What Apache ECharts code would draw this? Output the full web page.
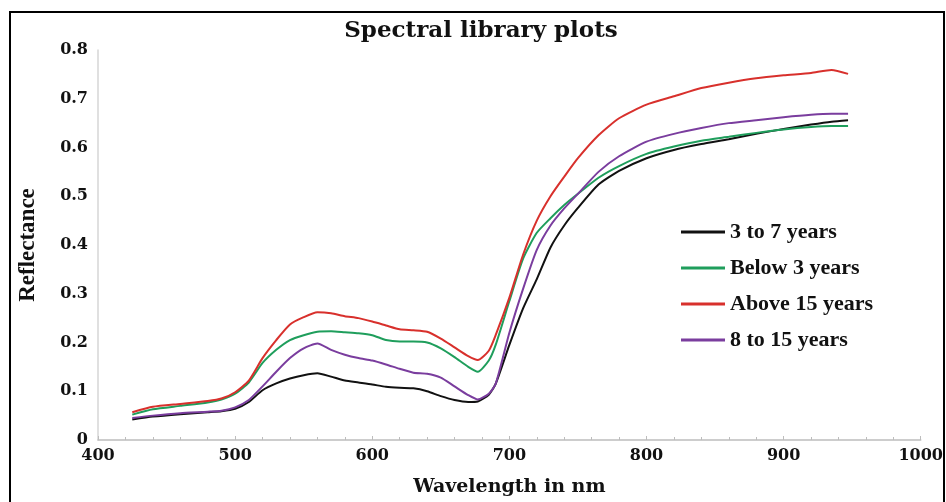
<!DOCTYPE html>
<html>
<head>
<meta charset="utf-8">
<script src="https://cdn.jsdelivr.net/npm/echarts@6/dist/echarts.min.js"></script>
<style>
  html, body { margin: 0; padding: 0; background: #fff; }
  #chart { width: 946px; height: 502px; }
</style>
</head>
<body>
<div id="chart"></div>
<script>
// wavelength (nm) of the sampled points
var wavelength = [425, 440, 460, 480, 490, 500, 510, 520, 530, 540, 550, 560, 570, 580, 590, 600,
  610, 620, 630, 640, 650, 660, 670, 677, 685, 690, 700, 710, 720, 730, 740, 750, 765, 780,
  800, 820, 840, 860, 880, 900, 920, 935, 947];

// reflectance per age group
var years3to7 = [0.042, 0.048, 0.053, 0.057, 0.059, 0.064, 0.078, 0.102, 0.116, 0.126, 0.133, 0.137,
  0.130, 0.122, 0.118, 0.114, 0.109, 0.107, 0.106, 0.100, 0.090, 0.082, 0.078, 0.079, 0.093, 0.115,
  0.195, 0.270, 0.330, 0.395, 0.440, 0.476, 0.524, 0.552, 0.578, 0.595, 0.607, 0.617, 0.628, 0.638,
  0.647, 0.653, 0.656];
var below3 = [0.052, 0.063, 0.070, 0.077, 0.083, 0.095, 0.118, 0.158, 0.185, 0.205, 0.215, 0.222,
  0.223, 0.221, 0.219, 0.215, 0.205, 0.202, 0.202, 0.200, 0.188, 0.170, 0.150, 0.140, 0.163, 0.195,
  0.285, 0.372, 0.425, 0.455, 0.482, 0.505, 0.538, 0.562, 0.587, 0.602, 0.614, 0.622, 0.630, 0.637,
  0.642, 0.644, 0.644];
var above15 = [0.057, 0.068, 0.074, 0.080, 0.085, 0.098, 0.122, 0.168, 0.205, 0.237, 0.252, 0.262,
  0.260, 0.254, 0.250, 0.243, 0.235, 0.227, 0.225, 0.222, 0.208, 0.190, 0.172, 0.164, 0.183, 0.215,
  0.292, 0.380, 0.450, 0.500, 0.540, 0.578, 0.625, 0.660, 0.688, 0.705, 0.722, 0.733, 0.742, 0.748,
  0.753, 0.759, 0.751];
var years8to15 = [0.045, 0.050, 0.055, 0.058, 0.060, 0.067, 0.082, 0.110, 0.140, 0.168, 0.188, 0.198,
  0.185, 0.175, 0.168, 0.163, 0.155, 0.146, 0.138, 0.136, 0.128, 0.110, 0.092, 0.083, 0.095, 0.115,
  0.220, 0.310, 0.390, 0.440, 0.475, 0.505, 0.550, 0.582, 0.612, 0.628, 0.640, 0.650, 0.656, 0.662,
  0.667, 0.669, 0.669];

var seriesNames = ['3 to 7 years', 'Below 3 years', 'Above 15 years', '8 to 15 years'];
var seriesValues = [years3to7, below3, above15, years8to15];
var seriesColors = ['#111111', '#1f9e5c', '#d8302c', '#7a3d9e'];

function pairs(vals) {
  var out = [];
  for (var i = 0; i < wavelength.length; i++) {
    out.push([wavelength[i], vals[i]]);
  }
  return out;
}

var series = [];
for (var k = 0; k < seriesNames.length; k++) {
  series.push({
    name: seriesNames[k],
    type: 'line',
    data: pairs(seriesValues[k]),
    showSymbol: false,
    smooth: 0.2,
    lineStyle: { width: 2, color: seriesColors[k] },
    itemStyle: { color: seriesColors[k] }
  });
}

var chart = echarts.init(document.getElementById('chart'));
chart.setOption({
  animation: false,
  title: {
    text: 'Spectral library plots',
    left: 476,
    top: 15,
    textAlign: 'center',
    textStyle: { fontFamily: 'DejaVu Serif', fontWeight: 'bold', fontSize: 23, color: '#111' }
  },
  legend: {
    orient: 'vertical',
    left: 681,
    top: 221,
    padding: 0,
    itemGap: 14,
    icon: 'rect',
    itemWidth: 44,
    itemHeight: 3,
    data: seriesNames,
    textStyle: { fontFamily: 'Liberation Serif', fontWeight: 'bold', fontSize: 22, color: '#111' }
  },
  grid: { left: 98, right: 23, top: 50, bottom: 59, containLabel: false },
  xAxis: {
    type: 'value',
    min: 400,
    max: 1000,
    interval: 100,
    name: 'Wavelength in nm',
    nameLocation: 'middle',
    nameGap: 38,
    nameTextStyle: { fontFamily: 'DejaVu Serif', fontWeight: 'bold', fontSize: 19, color: '#111' },
    axisLine: { lineStyle: { color: '#bdbdbd', width: 1.5 } },
    axisTick: { show: true, inside: true, length: 4, lineStyle: { color: '#bdbdbd' } },
    minorTick: { show: true, splitNumber: 5, length: 3, lineStyle: { color: '#bdbdbd' } },
    splitLine: { show: false },
    axisLabel: {
      margin: 8, fontFamily: 'DejaVu Serif', fontWeight: 'bold', fontSize: 16, color: '#111',
      formatter: function (v) { return String(v); }
    }
  },
  yAxis: {
    type: 'value',
    min: 0,
    max: 0.8,
    interval: 0.1,
    name: 'Reflectance',
    nameLocation: 'middle',
    nameGap: 58,
    nameTextStyle: { fontFamily: 'Liberation Serif', fontWeight: 'bold', fontSize: 23, color: '#111' },
    axisLine: { show: true, lineStyle: { color: '#d6d6d6', width: 1.5 } },
    axisTick: { show: false },
    splitLine: { show: false },
    axisLabel: { margin: 10, fontFamily: 'DejaVu Serif', fontWeight: 'bold', fontSize: 16, color: '#111' }
  },
  graphic: [{
    type: 'rect',
    shape: { x: 10, y: 12, width: 934, height: 500 },
    style: { fill: 'none', stroke: '#000', lineWidth: 2 },
    silent: true
  }],
  series: series
});
</script>
</body>
</html>
